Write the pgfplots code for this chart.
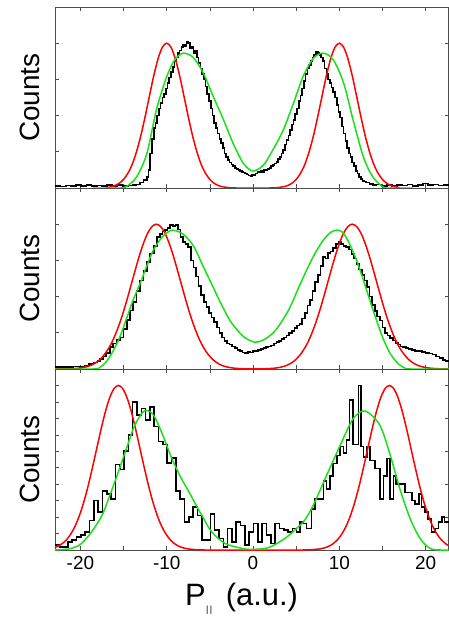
\documentclass[border=0pt]{standalone}
\usepackage{fontspec}
\setmainfont{Liberation Sans}
\usepackage{pgfplots}
\pgfplotsset{compat=1.18}
\definecolor{myred}{RGB}{255,0,0}
\definecolor{mygreen}{RGB}{25,225,25}
\pgfplotsset{
  panel/.style={
    scale only axis, width=393.5bp, height=181bp,
    xmin=-22.94, xmax=22.65,
    xtick={-20,-10,0,10,20}, minor xtick={-15,-5,5,15},
    major tick length=3.6bp, minor tick length=3.6bp,
    every tick/.style={black!70, line width=0.6bp},
    axis line style={black!70, line width=0.8bp},
    xticklabels={}, yticklabels={},
    extra y tick labels={},
    extra y tick style={ytick pos=left, yticklabel={}},
    ylabel={Counts},
    ylabel style={at={(axis description cs:-0.065,0.5)}, anchor=center, font=\fontsize{28}{30}\selectfont},
    clip=false,
  },
  blk/.style={black, line width=1.6bp, const plot},
  rd/.style={myred, line width=1.5bp, smooth},
  gr/.style={mygreen, line width=1.5bp, smooth},
}
\begin{document}
\begin{tikzpicture}
\useasboundingbox (0,0) rectangle (449bp,620bp);
% ---------------- panel 1 ----------------
\begin{axis}[panel, at={(55bp,432bp)}, anchor=south west,
  ymin=0, ymax=1, ytick={0.4,0.8}, extra y ticks={0.2,0.6}]
\addplot[blk] coordinates {
(-22.94,0.012) (-22.3,0.008) (-21.7,0.014) (-21.1,0.01) (-20.5,0.016) (-19.9,0.012) (-19.3,0.018) (-18.7,0.01) (-18.1,0.014) (-17.5,0.012) (-16.9,0.018) (-16.3,0.012) (-15.7,0.016) (-15.1,0.01) (-14.5,0.014) (-13.9,0.018) (-13.5,0.02) (-13.1,0.03) (-12.7,0.045) (-12.3,0.06) (-12.1,0.1) (-11.9,0.19) (-11.7,0.27) (-11.5,0.33) (-11.3,0.36) (-11.1,0.4) (-10.9,0.44) (-10.7,0.47) (-10.5,0.5) (-10.3,0.52) (-10.1,0.55) (-9.9,0.58) (-9.7,0.61) (-9.5,0.64) (-9.3,0.67) (-9.1,0.7) (-8.9,0.72) (-8.7,0.745) (-8.5,0.76) (-8.3,0.78) (-8.1,0.79) (-7.9,0.785) (-7.7,0.805) (-7.5,0.8) (-7.3,0.775) (-7.1,0.78) (-6.9,0.745) (-6.7,0.76) (-6.5,0.72) (-6.3,0.69) (-6.1,0.66) (-5.9,0.63) (-5.7,0.6) (-5.5,0.56) (-5.3,0.52) (-5.1,0.48) (-4.9,0.44) (-4.7,0.4) (-4.5,0.36) (-4.3,0.33) (-4.1,0.3) (-3.9,0.27) (-3.7,0.25) (-3.5,0.22) (-3.3,0.19) (-3.1,0.17) (-2.9,0.155) (-2.7,0.14) (-2.5,0.13) (-2.3,0.12) (-2.1,0.11) (-1.9,0.105) (-1.7,0.1) (-1.5,0.095) (-1.3,0.09) (-1.1,0.085) (-0.9,0.08) (-0.7,0.075) (-0.5,0.07) (-0.3,0.065) (-0.1,0.075) (0.1,0.07) (0.3,0.08) (0.5,0.09) (0.7,0.085) (0.9,0.095) (1.1,0.09) (1.3,0.1) (1.5,0.098) (1.7,0.105) (1.9,0.11) (2.1,0.12) (2.3,0.126) (2.5,0.135) (2.7,0.145) (2.9,0.16) (3.1,0.172) (3.3,0.19) (3.5,0.21) (3.7,0.24) (3.9,0.264) (4.1,0.29) (4.3,0.32) (4.5,0.35) (4.7,0.375) (4.9,0.41) (5.1,0.44) (5.3,0.48) (5.5,0.51) (5.7,0.55) (5.9,0.59) (6.1,0.63) (6.3,0.66) (6.5,0.68) (6.7,0.7) (6.9,0.72) (7.1,0.735) (7.3,0.754) (7.5,0.745) (7.7,0.735) (7.9,0.72) (8.1,0.7) (8.3,0.66) (8.5,0.63) (8.7,0.6) (8.9,0.58) (9.1,0.555) (9.3,0.53) (9.5,0.5) (9.7,0.46) (9.9,0.42) (10.1,0.39) (10.3,0.34) (10.5,0.3) (10.7,0.26) (10.9,0.22) (11.1,0.19) (11.3,0.17) (11.5,0.14) (11.7,0.12) (11.9,0.095) (12.1,0.08) (12.3,0.06) (12.5,0.05) (12.7,0.04) (12.9,0.035) (13.1,0.03) (13.5,0.022) (13.9,0.015) (14.3,0.02) (14.9,0.012) (15.5,0.016) (16.1,0.01) (16.7,0.018) (17.3,0.014) (17.9,0.02) (18.5,0.012) (19.1,0.018) (19.7,0.024) (20.3,0.016) (20.9,0.02) (21.5,0.014) (22.1,0.018) (22.65,0.018)
};
\addplot[rd] coordinates {
(-17,0) (-16.5,0.0066) (-16,0.0135) (-15.5,0.026) (-15,0.047) (-14.5,0.081) (-14,0.13) (-13.5,0.2) (-13,0.288) (-12.5,0.394) (-12,0.508) (-11.5,0.62) (-11,0.714) (-10.5,0.778) (-10,0.8) (-9.5,0.778) (-9,0.714) (-8.5,0.62) (-8,0.508) (-7.5,0.394) (-7,0.288) (-6.5,0.2) (-6,0.13) (-5.5,0.081) (-5,0.047) (-4.5,0.026) (-4,0.0135) (-3.5,0.0066) (-3,0.003) (-2,0) (2,0) (3,0.003) (3.5,0.0066) (4,0.0135) (4.5,0.026) (5,0.047) (5.5,0.081) (6,0.13) (6.5,0.2) (7,0.288) (7.5,0.394) (8,0.508) (8.5,0.62) (9,0.714) (9.5,0.778) (10,0.8) (10.5,0.778) (11,0.714) (11.5,0.62) (12,0.508) (12.5,0.394) (13,0.288) (13.5,0.2) (14,0.13) (14.5,0.081) (15,0.047) (15.5,0.026) (16,0.0135) (16.5,0.0066) (17,0)
};
\addplot[gr] coordinates {
(-18.5,0) (-16,0) (-14.8,0.005) (-13.5,0.06) (-12.3,0.19) (-11.2,0.43) (-10.0,0.615) (-9.04,0.71) (-8.07,0.745) (-6.9,0.72) (-5.75,0.634) (-4.6,0.505) (-3.4,0.375) (-2.3,0.246) (-1.1,0.135) (0,0.094) (1.2,0.126) (2.3,0.21) (3.5,0.32) (4.7,0.47) (5.8,0.615) (7.0,0.717) (8.15,0.745) (9.3,0.708) (10.5,0.58) (11.6,0.375) (12.8,0.17) (13.9,0.06) (15.1,0.005) (16,0) (18.5,0)
};
\end{axis}
% ---------------- panel 2 ----------------
\begin{axis}[panel, at={(55bp,251bp)}, anchor=south west,
  ymin=0, ymax=1, ytick={0.4,0.8}, extra y ticks={0.2,0.6}]
\addplot[blk] coordinates {
(-22.94,0.01) (-22.2,0.012) (-21.5,0.01) (-20.8,0.013) (-20.1,0.012) (-19.5,0.02) (-19,0.028) (-18.5,0.035) (-18,0.045) (-17.7,0.055) (-17.3,0.07) (-17,0.09) (-16.6,0.12) (-16.2,0.14) (-15.8,0.16) (-15.4,0.175) (-15,0.22) (-14.6,0.27) (-14.25,0.323) (-13.9,0.37) (-13.5,0.43) (-13.1,0.49) (-12.7,0.54) (-12.3,0.59) (-11.9,0.638) (-11.5,0.68) (-11.1,0.73) (-10.8,0.745) (-10.5,0.76) (-10.2,0.767) (-9.9,0.78) (-9.6,0.795) (-9.3,0.79) (-9.0,0.795) (-8.7,0.77) (-8.4,0.73) (-8.1,0.7) (-7.8,0.69) (-7.5,0.675) (-7.2,0.6) (-6.9,0.56) (-6.6,0.51) (-6.3,0.46) (-6.0,0.41) (-5.7,0.37) (-5.4,0.342) (-5.1,0.31) (-4.8,0.285) (-4.5,0.26) (-4.2,0.23) (-3.9,0.2) (-3.6,0.175) (-3.3,0.155) (-3.0,0.14) (-2.7,0.135) (-2.4,0.125) (-2.1,0.115) (-1.8,0.105) (-1.5,0.1) (-1.2,0.092) (-0.9,0.09) (-0.6,0.095) (-0.3,0.092) (0,0.1) (0.3,0.1) (0.6,0.105) (0.9,0.11) (1.2,0.115) (1.5,0.12) (1.8,0.125) (2.1,0.13) (2.4,0.14) (2.7,0.15) (3.0,0.155) (3.3,0.165) (3.6,0.175) (3.9,0.185) (4.2,0.2) (4.5,0.21) (4.8,0.225) (5.1,0.24) (5.4,0.25) (5.7,0.28) (6.0,0.31) (6.3,0.35) (6.6,0.38) (6.9,0.43) (7.2,0.48) (7.5,0.52) (7.8,0.57) (8.1,0.62) (8.4,0.61) (8.7,0.64) (9.0,0.65) (9.3,0.67) (9.6,0.69) (9.9,0.7) (10.2,0.69) (10.5,0.68) (10.8,0.675) (11.1,0.66) (11.4,0.635) (11.7,0.61) (12.0,0.58) (12.3,0.55) (12.6,0.52) (12.9,0.49) (13.2,0.453) (13.5,0.4) (13.8,0.355) (14.1,0.32) (14.4,0.29) (14.7,0.268) (15.0,0.23) (15.3,0.2) (15.6,0.185) (15.9,0.17) (16.2,0.157) (16.5,0.145) (16.8,0.135) (17.1,0.125) (17.4,0.12) (17.7,0.115) (18.0,0.11) (18.4,0.105) (18.8,0.1) (19.2,0.1) (19.6,0.095) (20.0,0.09) (20.4,0.085) (20.8,0.08) (21.2,0.07) (21.6,0.06) (22.0,0.05) (22.3,0.045) (22.65,0.045)
};
\addplot[rd] coordinates {
(-22.94,0) (-21.2,0.0014) (-20.2,0.0046) (-19.7,0.008) (-19.2,0.0135) (-18.7,0.022) (-18.2,0.035) (-17.7,0.054) (-17.2,0.081) (-16.7,0.116) (-16.2,0.162) (-15.7,0.22) (-15.2,0.288) (-14.7,0.366) (-14.2,0.451) (-13.7,0.537) (-13.2,0.62) (-12.7,0.693) (-12.2,0.751) (-11.7,0.787) (-11.2,0.8) (-10.7,0.787) (-10.2,0.751) (-9.7,0.693) (-9.2,0.62) (-8.7,0.537) (-8.2,0.451) (-7.7,0.366) (-7.2,0.288) (-6.7,0.22) (-6.2,0.162) (-5.7,0.116) (-5.2,0.081) (-4.7,0.054) (-4.2,0.035) (-3.7,0.022) (-3.2,0.0135) (-2.7,0.008) (-2.2,0.0046) (-1.2,0.0014) (0,0) (1.5,0.0014) (2.5,0.0046) (3,0.008) (3.5,0.0135) (4,0.022) (4.5,0.035) (5,0.054) (5.5,0.081) (6,0.116) (6.5,0.162) (7,0.22) (7.5,0.288) (8,0.366) (8.5,0.451) (9,0.537) (9.5,0.62) (10,0.693) (10.5,0.751) (11,0.787) (11.5,0.8) (12,0.787) (12.5,0.751) (13,0.693) (13.5,0.62) (14,0.537) (14.5,0.451) (15,0.366) (15.5,0.288) (16,0.22) (16.5,0.162) (17,0.116) (17.5,0.081) (18,0.054) (18.5,0.035) (19,0.022) (19.5,0.0135) (20,0.008) (20.5,0.0046) (21.5,0.0014) (22.65,0)
};
\addplot[gr] coordinates {
(-22.94,0) (-18.5,0) (-17.7,0.01) (-17,0.04) (-16.2,0.1) (-15.4,0.18) (-14.6,0.286) (-13.9,0.38) (-13.1,0.47) (-12.3,0.57) (-11.55,0.656) (-10.5,0.73) (-9.4,0.767) (-8.1,0.745) (-6.9,0.68) (-5.8,0.57) (-4.6,0.45) (-3.8,0.37) (-2.7,0.27) (-1.9,0.22) (-1.0,0.175) (0.2,0.148) (1.2,0.16) (2.35,0.2) (3.3,0.26) (4.3,0.342) (5.2,0.44) (6.2,0.545) (7.2,0.64) (8.15,0.712) (9.0,0.755) (9.7,0.767) (10.4,0.755) (11.2,0.69) (12.0,0.6) (12.8,0.49) (13.6,0.37) (14.3,0.27) (15.1,0.165) (15.9,0.085) (16.8,0.03) (17.6,0.005) (18.3,0) (22.65,0)
};
\end{axis}
% ---------------- panel 3 ----------------
\begin{axis}[panel, at={(55bp,70bp)}, anchor=south west,
  ymin=0, ymax=11, ytick={2,4,6,8,10}, extra y ticks={1,3,5,7,9},
  xticklabels={-20,-10,0,10,20},
  xticklabel style={font=\fontsize{19}{21}\selectfont, yshift=-3bp},
  xlabel={P\kern0.5bp\raisebox{-7.5bp}{\fontsize{9}{9}\selectfont|\kern1.5bp|}\kern5bp\ (a.u.)},
  xlabel style={at={(axis description cs:0.474,-0.304)}, anchor=base, font=\fontsize{31}{33}\selectfont}]
\addplot[blk] coordinates {
(-22.94,0.3) (-22.44,0.2) (-21.94,0.2) (-21.44,0.5) (-20.94,0.6) (-20.44,0.8) (-19.94,0.9) (-19.44,1.1) (-18.94,1.8) (-18.44,3.0) (-17.94,2.3) (-17.44,3.6) (-16.94,3.4) (-16.44,3.1) (-15.94,5.2) (-15.44,4.9) (-14.94,6.0) (-14.44,7.0) (-13.94,9.0) (-13.44,8.2) (-12.94,8.6) (-12.44,7.9) (-11.94,8.7) (-11.44,7.5) (-10.94,6.6) (-10.44,6.4) (-9.94,5.3) (-9.44,5.6) (-8.94,3.6) (-8.44,3.1) (-7.94,1.7) (-7.44,2.0) (-6.94,2.6) (-6.44,2.1) (-5.94,0.6) (-5.44,0.6) (-4.94,2.2) (-4.44,1.2) (-3.94,0.7) (-3.44,0.2) (-2.94,1.3) (-2.44,0.5) (-1.94,1.7) (-1.44,1.5) (-0.94,0.3) (-0.44,1.1) (0.06,1.6) (0.56,0.5) (1.06,1.6) (1.56,0.9) (2.06,0.4) (2.56,1.6) (3.06,1.3) (3.56,1.2) (4.06,1.1) (4.56,1.3) (5.06,1.1) (5.45,1.7) (5.8,1.6) (6.2,1.3) (6.8,2.5) (7.2,3.1) (8.15,4.2) (8.5,3.7) (8.9,4.5) (9.3,5.25) (9.7,5.75) (10.1,6.3) (10.5,5.9) (10.85,6.7) (11.2,9.1) (11.6,6.4) (12.2,10.0) (12.5,6.3) (12.8,5.65) (13.2,6.3) (13.55,5.45) (14.1,4.95) (14.7,3.1) (15.1,4.5) (15.5,5.55) (15.9,3.1) (16.3,4.5) (16.6,4.0) (17.6,3.5) (18.4,3.0) (18.8,2.8) (19.2,3.4) (19.5,2.6) (19.9,2.3) (20.3,1.9) (20.7,1.1) (21.1,1.3) (21.5,1.7) (21.9,2.0) (22.2,1.7) (22.65,1.7)
};
\addplot[rd] coordinates {
(-22.94,0.16) (-22.6,0.23) (-22.1,0.39) (-21.6,0.63) (-21.1,0.98) (-20.6,1.46) (-20.1,2.11) (-19.6,2.92) (-19.1,3.9) (-18.6,5.01) (-18.1,6.18) (-17.6,7.35) (-17.1,8.41) (-16.6,9.26) (-16.1,9.81) (-15.6,10) (-15.1,9.81) (-14.6,9.26) (-14.1,8.41) (-13.6,7.35) (-13.1,6.18) (-12.6,5.01) (-12.1,3.9) (-11.6,2.92) (-11.1,2.11) (-10.6,1.46) (-10.1,0.98) (-9.6,0.63) (-9.1,0.39) (-8.6,0.23) (-8.1,0.13) (-7.6,0.07) (-6.6,0.02) (-5.6,0) (5.8,0) (6.8,0.02) (7.8,0.07) (8.3,0.13) (8.8,0.23) (9.3,0.39) (9.8,0.63) (10.3,0.98) (10.8,1.46) (11.3,2.11) (11.8,2.92) (12.3,3.9) (12.8,5.01) (13.3,6.18) (13.8,7.35) (14.3,8.41) (14.8,9.26) (15.3,9.81) (15.8,10) (16.3,9.81) (16.8,9.26) (17.3,8.41) (17.8,7.35) (18.3,6.18) (18.8,5.01) (19.3,3.9) (19.8,2.92) (20.3,2.11) (20.8,1.46) (21.3,0.98) (21.8,0.63) (22.3,0.39) (22.65,0.27)
};
\addplot[gr] coordinates {
(-22.94,0) (-21.4,0.06) (-20.5,0.2) (-19.85,0.4) (-18.7,1.1) (-17.5,2.1) (-16.6,3.3) (-15.6,4.75) (-14.6,6.26) (-13.7,7.58) (-12.6,8.45) (-11.6,8.25) (-10.6,7.17) (-9.4,5.56) (-8.3,4.35) (-7.5,3.6) (-5.95,2.12) (-4.8,1.11) (-3.24,0.4) (-1.3,0.1) (-0.15,0.04) (1.77,0.14) (3.7,0.7) (5.25,1.41) (6.0,1.82) (7.0,2.73) (8.54,4.55) (10.1,6.36) (11.6,7.98) (13.0,8.45) (14.7,7.58) (15.9,5.76) (17.0,3.74) (18.2,1.92) (19.35,0.71) (20.5,0.1) (21.7,0) (22.65,0)
};
\end{axis}
\end{tikzpicture}
\end{document}
